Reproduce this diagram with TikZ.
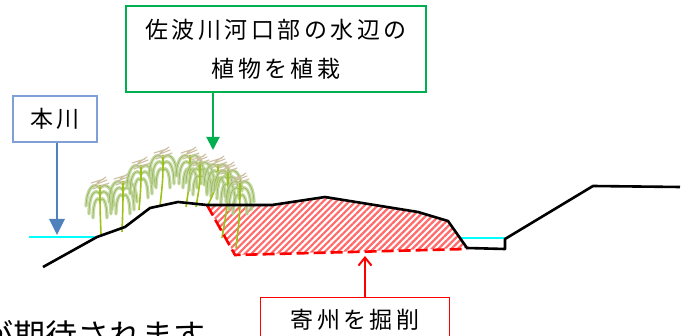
\documentclass[tikz,border=0pt]{standalone}
\usepackage{fontspec}
\setmainfont{Noto Sans CJK JP}
\newfontfamily\jp[LetterSpace=15]{Noto Sans CJK JP}
\usetikzlibrary{arrows.meta,patterns.meta}

\definecolor{boxgreen}{HTML}{00B050}
\definecolor{boxblue}{HTML}{7F9FD6}
\definecolor{arrowblue}{HTML}{4F81BD}
\definecolor{water}{HTML}{00FFFF}
\definecolor{hatch}{HTML}{FF6A6A}
\definecolor{leafgreen}{HTML}{BDD494}
\definecolor{leafedge}{HTML}{8DAD55}
\definecolor{stemgreen}{HTML}{9CC21A}
\definecolor{plumetan}{HTML}{CDBFA2}

\tikzset{
  label box/.style={draw=#1, line width=1.4pt, fill=white, inner sep=0pt,
    font=\jp\fontsize{23}{39}\selectfont, align=center},
  ground/.style={line width=2.6pt, black, line join=round},
  waterline/.style={line width=2.8pt, water},
  cutline/.style={line width=2.6pt, red, dash pattern=on 12pt off 5pt},
  stemline/.style={line width=1.6pt, stemgreen},
  leaf/.style={line width=3.4pt, leafgreen, opacity=0.85, line cap=round},
  leafvein/.style={line width=0.6pt, leafedge, opacity=0.9},
  plume/.style={line width=1.1pt, plumetan, line cap=round},
  % a reed: plume at the origin, stem ending at (#1,#2)
  pics/reed/.style 2 args={code={
    \foreach \s in {-1,1}{
      \foreach \y/\ax/\ay/\bx/\by/\tx/\ty in
          {5/6/-1/13/4/14/23, 11/5/5/11/11/11/31, 17/3/13/7/19/7/35}{
        \draw[leaf] (0,\y) .. controls ({\s*\ax},\ay) and ({\s*\bx},\by) .. ({\s*\tx},\ty);
        \draw[leafvein] (0,\y) .. controls ({\s*\ax},\ay) and ({\s*\bx},\by) .. ({\s*\tx},\ty);
      }
    }
    \draw[stemline] (0,2) .. controls (0,{0.5*#2}) .. (#1,#2);
    \draw[plume] (-8,3) -- (7,-3) (-7,6) -- (9,0) (-3,0) -- (6,-6) (-9,0) -- (4,-4);
  }}
}

\begin{document}
\begin{tikzpicture}[x=1pt, y=-1pt]
  \useasboundingbox (0,0) rectangle (689,336);
  \clip (0,0) rectangle (689,336);

  % excavated sandbar
  \fill[pattern={Lines[angle=45, distance=4.6pt, line width=2.2pt]}, pattern color=hatch]
    (207,205) -- (272,205) -- (325,197) -- (418,212) -- (448,221) -- (467,248)
    -- (235,255) -- cycle;

  % reeds along the bank
  \pic at (100,183) {reed={1}{51}};
  \pic at (123,179) {reed={-1}{53}};
  \pic at (141,163) {reed={-2}{47}};
  \pic at (163,153) {reed={-3}{53}};
  \pic at (190,153) {reed={-4}{54}};
  \pic at (200,160) {reed={-4}{47}};
  \pic at (218,162) {reed={-10}{43}};
  \pic at (228,168) {reed={-6}{70}};
  \pic at (240,179) {reed={-4}{69}};

  % excavation outline
  \coordinate (c1) at (207,205);
  \coordinate (c2) at (235,255);
  \coordinate (c3) at (467,249);
  \draw[cutline] (c1) -- (c2) -- (c3);

  % water surfaces
  \coordinate (wl1) at (29,237);
  \coordinate (wl2) at (97,237);
  \coordinate (wr1) at (460,238);
  \coordinate (wr2) at (505,238);
  \draw[waterline] (wl1) -- (wl2);
  \draw[waterline] (wr1) -- (wr2);

  % cross-section of the ground
  \draw[ground] (43,267) -- (97,237) -- (125,227) -- (150,208) -- (178,202)
    -- (207,205) -- (272,205) -- (325,197) -- (418,212) -- (448,221)
    -- (467,248) -- (505,249) -- (505,239) -- (593,186) -- (680,187);

  % labels
  \node[label box=boxgreen, minimum width=300pt, minimum height=86pt]
    (plant) at (276,49) {佐波川河口部の水辺の\\植物を植栽};
  \coordinate (plantTip) at (213,150);
  \draw[boxgreen, line width=2pt, -{Triangle[width=13pt,length=13pt]}]
    (plant.south -| plantTip) -- (plantTip);

  \node[label box=boxblue, minimum width=84pt, minimum height=46pt]
    (main) at (55,119) {本川};
  \coordinate (mainTip) at (57,235);
  \draw[arrowblue, line width=2.8pt, -{Triangle[width=15pt,length=16pt]}]
    (main.south -| mainTip) -- (mainTip);

  \node[label box=red, minimum width=189pt, minimum height=50pt, anchor=north west]
    (dig) at (260,297) {};
  \node[font=\jp\fontsize{23}{39}\selectfont, inner sep=0pt] (digtext) at (355,320) {寄州を掘削};
  \coordinate (digTip) at (365,256);
  \draw[red, line width=2pt, -{Straight Barb[width=13pt,length=8pt]}]
    (dig.north -| digTip) -- (digTip);

  \node[anchor=base west, inner sep=0pt, font=\fontsize{32}{38}\selectfont]
    (note) at (-19,348) {が期待されます};
\end{tikzpicture}
\end{document}
